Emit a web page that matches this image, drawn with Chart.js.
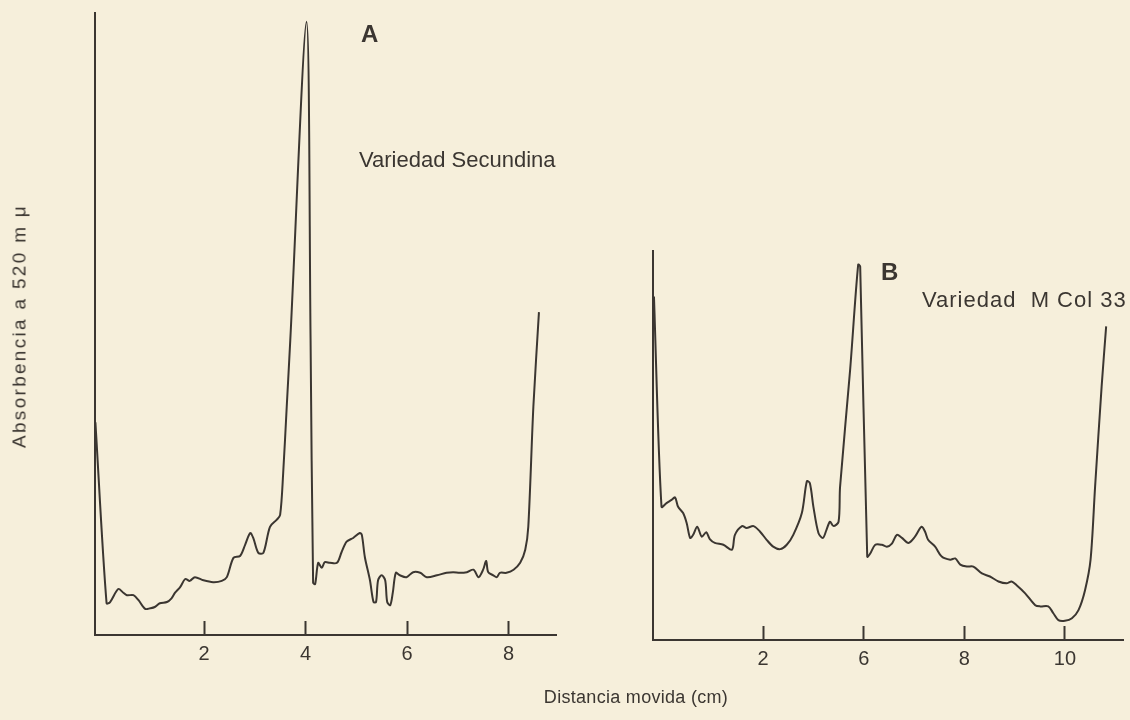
<!DOCTYPE html>
<html>
<head>
<meta charset="utf-8">
<script src="https://cdn.jsdelivr.net/npm/chart.js@4.4.1/dist/chart.umd.min.js"></script>
<style>
    html, body {
        margin: 0;
        padding: 0;
        background: #f6efdb;
        width: 1130px;
        height: 720px;
        overflow: hidden;
        font-family: "Liberation Sans", Arial, sans-serif;
        color: #3b3631;
    }
    canvas {
        position: absolute;
        top: 0;
    }
    #chartA { left: 0; }
    #chartB { left: 580px; }
    .label {
        position: absolute;
        white-space: pre;
        line-height: 1;
    }
    .panel-letter { font-weight: bold; font-size: 24px; }
    .variety { font-size: 22px; }
    #yTitle {
        font-size: 19px;
        letter-spacing: 2.3px;
        transform-origin: center center;
        transform: translate(-50%, -50%) rotate(-90deg);
        left: 19px;
        top: 326px;
    }
    #xTitle {
        font-size: 18px;
        letter-spacing: 0.3px;
        transform: translateX(-50%);
        left: 636px;
        top: 688px;
    }
</style>
</head>
<body>
<canvas id="chartA" width="580" height="720"></canvas>
<canvas id="chartB" width="550" height="720"></canvas>

<div class="label panel-letter" style="left:361px; top:22px;">A</div>
<div class="label variety" style="left:359px; top:149px;">Variedad Secundina</div>
<div class="label panel-letter" style="left:881px; top:260px;">B</div>
<div class="label variety" style="left:922px; top:289px; letter-spacing:1px;">Variedad  M Col 33</div>
<div class="label" id="yTitle">Absorbencia a 520 m μ</div>
<div class="label" id="xTitle">Distancia movida (cm)</div>

<script>
// Data (distance along the strip, relative absorbance)
const A_X = [-0.14, 0.08, 0.15, 0.31, 0.41, 0.48, 0.61, 0.71, 0.84, 0.94, 1.03, 1.13, 1.27, 1.36,
    1.43, 1.53, 1.63, 1.72, 1.82, 1.99, 2.18, 2.35, 2.45, 2.58, 2.71, 2.81, 2.91, 2.97, 3.07, 3.17,
    3.30, 3.43, 3.50, 3.56, 3.63, 3.70, 4.02, 4.10, 4.15, 4.19, 4.25, 4.32, 4.38, 4.48, 4.62, 4.71,
    4.81, 4.94, 5.07, 5.11, 5.17, 5.27, 5.34, 5.39, 5.43, 5.50, 5.57, 5.61, 5.67, 5.72, 5.78, 5.86,
    5.99, 6.12, 6.26, 6.39, 6.59, 6.78, 6.91, 7.04, 7.18, 7.31, 7.41, 7.50, 7.56, 7.60, 7.70, 7.77,
    7.83, 7.96, 8.10, 8.23, 8.33, 8.39, 8.49, 8.60];
const A_Y = [34.2, 5.1, 5.3, 7.4, 6.8, 6.4, 6.4, 5.6, 4.2, 4.3, 4.5, 5.1, 5.3, 5.9,
    6.8, 7.7, 9.0, 8.7, 9.3, 8.8, 8.5, 8.7, 9.3, 12.4, 12.7, 14.5, 16.4, 15.6, 13.2, 13.2,
    17.4, 18.5, 19.3, 26.0, 36.7, 47.4, 98.6, 47.4, 8.4, 8.2, 11.6, 10.8, 11.7, 11.6, 11.6, 13.3,
    15.0, 15.6, 16.4, 16.1, 12.5, 8.8, 5.3, 5.3, 8.8, 9.6, 8.8, 5.3, 4.8, 6.8, 10.0, 9.6,
    9.3, 10.1, 10.0, 9.3, 9.6, 10.0, 10.1, 10.0, 10.1, 10.5, 9.3, 10.5, 11.9, 10.1, 9.6, 9.3,
    10.0, 10.0, 10.5, 11.6, 13.7, 17.4, 36.7, 51.9];

const B_X = [-0.17, -0.02, 0.08, 0.18, 0.25, 0.31, 0.41, 0.48, 0.55, 0.61, 0.69, 0.78, 0.87, 0.94,
    1.04, 1.21, 1.38, 1.44, 1.58, 1.67, 1.81, 1.94, 2.07, 2.20, 2.34, 2.47, 2.60, 2.77, 2.87, 2.93,
    3.00, 3.10, 3.19, 3.26, 3.33, 3.40, 3.50, 3.53, 3.73, 3.89, 3.93, 4.07, 4.13, 4.23, 4.36, 4.46,
    4.56, 4.66, 4.76, 4.89, 5.02, 5.15, 5.22, 5.28, 5.42, 5.55, 5.72, 5.82, 5.92, 6.05, 6.18, 6.35,
    6.51, 6.68, 6.84, 6.94, 7.04, 7.21, 7.41, 7.51, 7.67, 7.77, 7.87, 8.00, 8.14, 8.27, 8.40, 8.51,
    8.60, 8.73, 8.82];
const B_Y = [55.2, 21.4, 22.0, 22.5, 22.9, 21.4, 20.4, 18.8, 16.4, 16.9, 18.2, 16.6, 17.3, 16.2,
    15.6, 15.3, 14.5, 16.9, 18.3, 18.0, 18.3, 17.4, 16.1, 15.0, 14.6, 15.3, 16.9, 20.4, 25.5, 25.2,
    21.4, 17.2, 16.4, 17.7, 19.0, 18.3, 19.0, 24.6, 43.4, 60.3, 60.0, 13.4, 13.9, 15.3, 15.3, 15.0,
    15.5, 16.9, 16.4, 15.6, 16.6, 18.2, 17.4, 16.1, 15.0, 13.4, 12.9, 13.1, 12.1, 11.8, 11.8, 10.7,
    10.2, 9.4, 9.1, 9.4, 8.8, 7.5, 5.6, 5.4, 5.4, 4.3, 3.2, 3.1, 3.5, 4.8, 8.0, 12.9,
    24.6, 40.7, 50.4];

// Tick positions and the labels printed under them
const TICKS_A = [2, 4, 6, 8];
const TICK_LABELS_A = ['2', '4', '6', '8'];
const TICKS_B = [2, 4, 6, 8];
const TICK_LABELS_B = ['2', '6', '8', '10'];

const INK = '#3b3631';

function toPoints(xs, ys) {
    return xs.map((x, i) => ({ x: x, y: ys[i] }));
}

function makeChart(id, xs, ys, ticks, tickLabels, range, pad, xHeight) {
    const ctx = document.getElementById(id).getContext('2d');
    return new Chart(ctx, {
        type: 'line',
        data: {
            datasets: [{
                data: toPoints(xs, ys),
                borderColor: INK,
                borderWidth: 2,
                borderJoinStyle: 'round',
                pointRadius: 0,
                tension: 0.3,
                fill: false
            }]
        },
        options: {
            responsive: false,
            animation: false,
            events: [],
            layout: {
                padding: { left: pad.left, right: pad.right, top: pad.top, bottom: 0 }
            },
            plugins: {
                legend: { display: false },
                tooltip: { enabled: false }
            },
            scales: {
                x: {
                    type: 'linear',
                    min: range.xMin,
                    max: range.xMax,
                    afterBuildTicks: (scale) => {
                        scale.ticks = ticks.map(v => ({ value: v }));
                    },
                    afterFit: (scale) => {
                        scale.height = xHeight;
                    },
                    ticks: {
                        color: INK,
                        padding: 21,
                        maxRotation: 0,
                        autoSkip: false,
                        font: { family: '"Liberation Sans", Arial, sans-serif', size: 20 },
                        callback: (value, index) => tickLabels[index]
                    },
                    grid: {
                        display: true,
                        drawOnChartArea: false,
                        drawTicks: true,
                        tickLength: -14,
                        tickColor: INK,
                        tickWidth: 2
                    },
                    border: { display: true, color: INK, width: 2 }
                },
                y: {
                    type: 'linear',
                    min: 0,
                    max: range.yMax,
                    afterFit: (scale) => {
                        scale.width = 0;
                    },
                    ticks: { display: false },
                    grid: { display: false },
                    border: { display: true, color: INK, width: 2 }
                }
            }
        }
    });
}

makeChart('chartA', A_X, A_Y, TICKS_A, TICK_LABELS_A,
    { xMin: -0.148, xMax: 8.936, yMax: 100 },
    { left: 95, right: 24, top: 13 }, 85);

makeChart('chartB', B_X, B_Y, TICKS_B, TICK_LABELS_B,
    { xMin: -0.189, xMax: 9.155, yMax: 62.5 },
    { left: 73, right: 7, top: 251 }, 80);
</script>
</body>
</html>
